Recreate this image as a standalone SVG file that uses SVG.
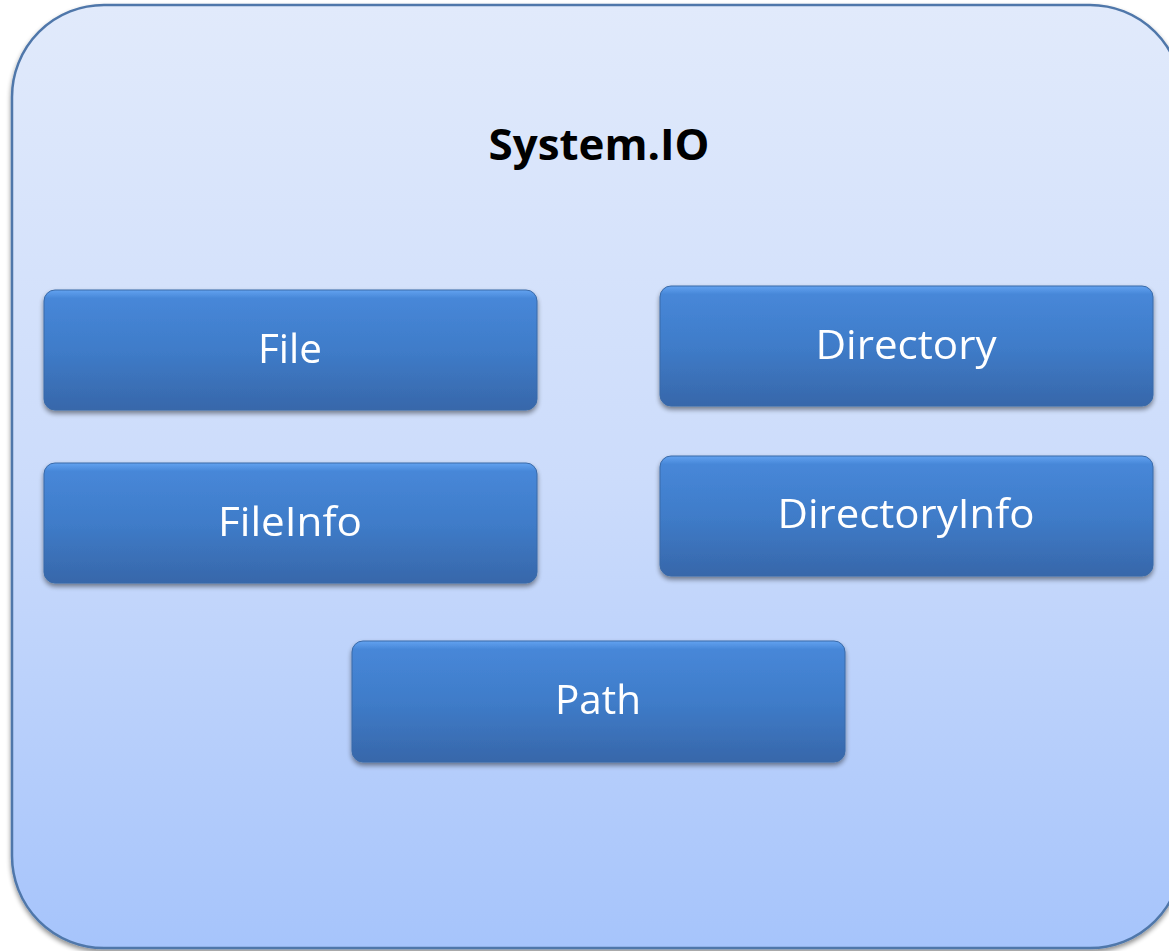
<svg xmlns="http://www.w3.org/2000/svg" width="1169" height="951" viewBox="0 0 1169 951">
<defs>
<linearGradient id="bg" x1="0" y1="0" x2="0" y2="1">
<stop offset="0" stop-color="#e1eafb"/>
<stop offset="0.5" stop-color="#ccdcfb"/>
<stop offset="1" stop-color="#a6c4fb"/>
</linearGradient>
<linearGradient id="box" x1="0" y1="0" x2="0" y2="1">
<stop offset="0" stop-color="#62a2f0"/>
<stop offset="0.07" stop-color="#4787d8"/>
<stop offset="0.5" stop-color="#3f7cc9"/>
<stop offset="1" stop-color="#3767aa"/>
</linearGradient>
<filter id="sh" x="-5%" y="-10%" width="110%" height="130%">
<feGaussianBlur in="SourceAlpha" stdDeviation="2.5"/>
<feOffset dx="0" dy="3" result="b"/>
<feComponentTransfer><feFuncA type="linear" slope="0.45"/></feComponentTransfer>
<feMerge><feMergeNode/><feMergeNode in="SourceGraphic"/></feMerge>
</filter>
</defs>
<style>
.box{fill:url(#box);stroke:#3a6aa8;stroke-width:1}
.lbl{font-family:"Open Sans","Liberation Sans",sans-serif;font-size:41px;fill:#ffffff;text-anchor:middle}
.title{font-family:"Open Sans","Liberation Sans",sans-serif;font-size:43px;font-weight:bold;fill:#000000;text-anchor:middle}
</style>
<rect width="1169" height="951" fill="#ffffff"/>
<g id="container">
<rect x="12" y="5" width="1170" height="943" rx="92" ry="92" fill="url(#bg)" stroke="#4f77aa" stroke-width="2.5" filter="url(#sh)"/>
<text class="title" x="599" y="160" textLength="221" lengthAdjust="spacingAndGlyphs">System.IO</text>
</g>
<g id="connectors"></g>
<g id="file" filter="url(#sh)">
<rect class="box" x="44" y="290" width="493" height="120" rx="11"/>
<text class="lbl" x="290" y="363" textLength="64" lengthAdjust="spacingAndGlyphs">File</text>
</g>
<g id="directory" filter="url(#sh)">
<rect class="box" x="660" y="286" width="493" height="120" rx="11"/>
<text class="lbl" x="906" y="359" textLength="181" lengthAdjust="spacingAndGlyphs">Directory</text>
</g>
<g id="fileinfo" filter="url(#sh)">
<rect class="box" x="44" y="463" width="493" height="120" rx="11"/>
<text class="lbl" x="290" y="536" textLength="144" lengthAdjust="spacingAndGlyphs">FileInfo</text>
</g>
<g id="directoryinfo" filter="url(#sh)">
<rect class="box" x="660" y="456" width="493" height="120" rx="11"/>
<text class="lbl" x="906" y="528" textLength="257" lengthAdjust="spacingAndGlyphs">DirectoryInfo</text>
</g>
<g id="path" filter="url(#sh)">
<rect class="box" x="352" y="641" width="493" height="121" rx="11"/>
<text class="lbl" x="598" y="714" textLength="86" lengthAdjust="spacingAndGlyphs">Path</text>
</g>
</svg>
